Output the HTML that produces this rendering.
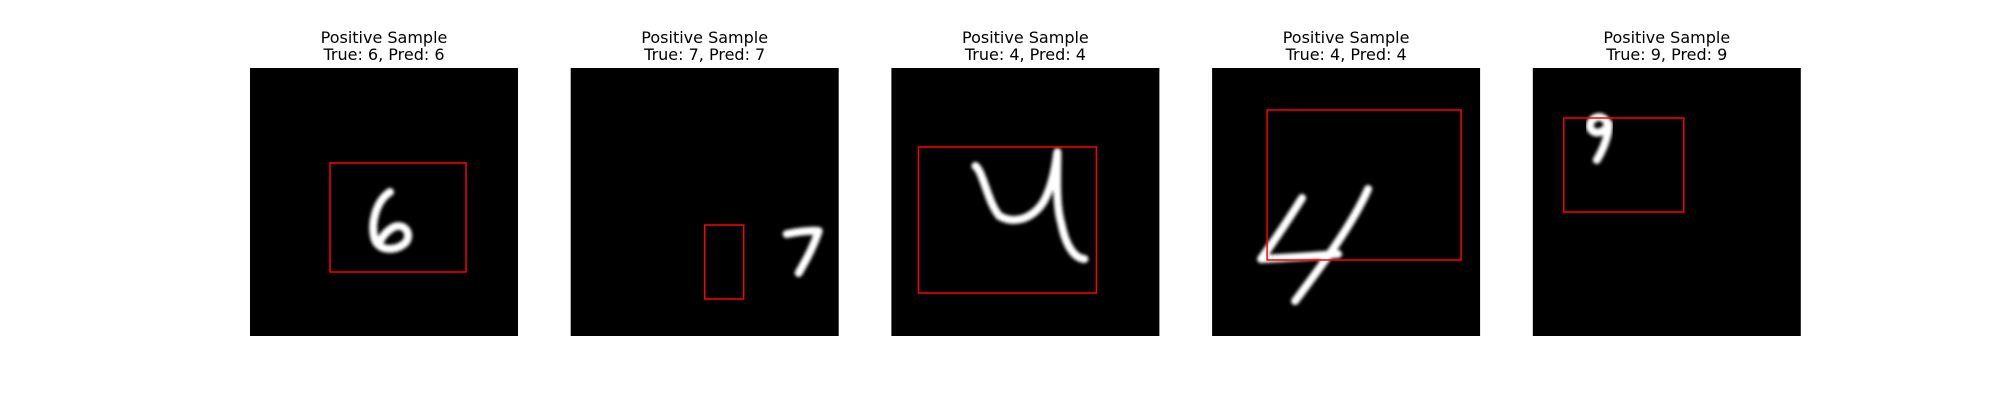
<!DOCTYPE html>
<html><head><meta charset="utf-8"><style>
html,body{margin:0;padding:0;background:#fff;}
svg{display:block;}
text{font-family:"DejaVu Sans","Liberation Sans",sans-serif;font-size:16px;fill:#000;}
</style></head><body>
<svg id="fig" width="2000" height="400">
<defs><filter id="blur" x="-20%" y="-20%" width="140%" height="140%"><feGaussianBlur stdDeviation="1.6"/></filter></defs>
</svg>
<script>
const titles = ["True: 6, Pred: 6","True: 7, Pred: 7","True: 4, Pred: 4","True: 4, Pred: 4","True: 9, Pred: 9"];
const boxX = [80,134,27,55,31];
const boxY = [95,157,79,42,50];
const boxW = [136,39,178,194,120];
const boxH = [109,74,146,150,94];
const digits = [
 "M140 124 C126 133 120 156 125 172 C130 184 148 183 156 174 C162 165 154 155 144 159 C136 163 130 171 129 177",
 "M216 166 C226 164 238 162 248 163 C242 181 234 194 228 205",
 "M84 98 C92 104 96 134 108 148 C122 156 140 152 152 134 C160 120 164 100 166 84 C166 106 164 136 170 156 C174 176 182 190 193 191",
 "M90 130 C78 149 62 173 49 191 C70 190 100 188 126 186 M156 121 C140 157 110 197 83 233",
 "M74 54 C70 46 58 48 57 58 C58 66 70 68 76 56 C76 68 70 82 64 92"
];
const svg = document.getElementById('fig');
const NS = 'http://www.w3.org/2000/svg';
const x0 = 250, step = 320.7, y0 = 68, pw = 268, ph = 268;
for (let i = 0; i < titles.length; i++) {
  const px = x0 + i * step;
  const g = document.createElementNS(NS, 'g');
  
  
  g.setAttribute('transform', 'translate(' + px + ',' + y0 + ')');
  const t1 = document.createElementNS(NS, 'text');
  
  
  t1.setAttribute('x', pw / 2); t1.setAttribute('y', -25); t1.setAttribute('text-anchor', 'middle');
  t1.textContent = 'Positive Sample';
  const t2 = document.createElementNS(NS, 'text');
  
  
  t2.setAttribute('x', pw / 2); t2.setAttribute('y', -8); t2.setAttribute('text-anchor', 'middle');
  t2.textContent = titles[i];
  const bg = document.createElementNS(NS, 'rect');
  
  
  bg.setAttribute('width', pw); bg.setAttribute('height', ph); bg.setAttribute('fill', '#000');
  const d = document.createElementNS(NS, 'path');
  
  
  d.setAttribute('d', digits[i]); d.setAttribute('fill', 'none'); d.setAttribute('stroke', '#fff');
  d.setAttribute('stroke-width', '8'); d.setAttribute('stroke-linecap', 'round'); d.setAttribute('stroke-linejoin', 'round');
  d.setAttribute('filter', 'url(#blur)');
  const b = document.createElementNS(NS, 'rect');
  
  
  b.setAttribute('x', boxX[i]); b.setAttribute('y', boxY[i]); b.setAttribute('width', boxW[i]); b.setAttribute('height', boxH[i]);
  b.setAttribute('fill', 'none'); b.setAttribute('stroke', '#ff0000'); b.setAttribute('stroke-width', '1.5');
  g.appendChild(t1); g.appendChild(t2); g.appendChild(bg); g.appendChild(d); g.appendChild(b);
  svg.appendChild(g);
}
</script>
</body></html>
